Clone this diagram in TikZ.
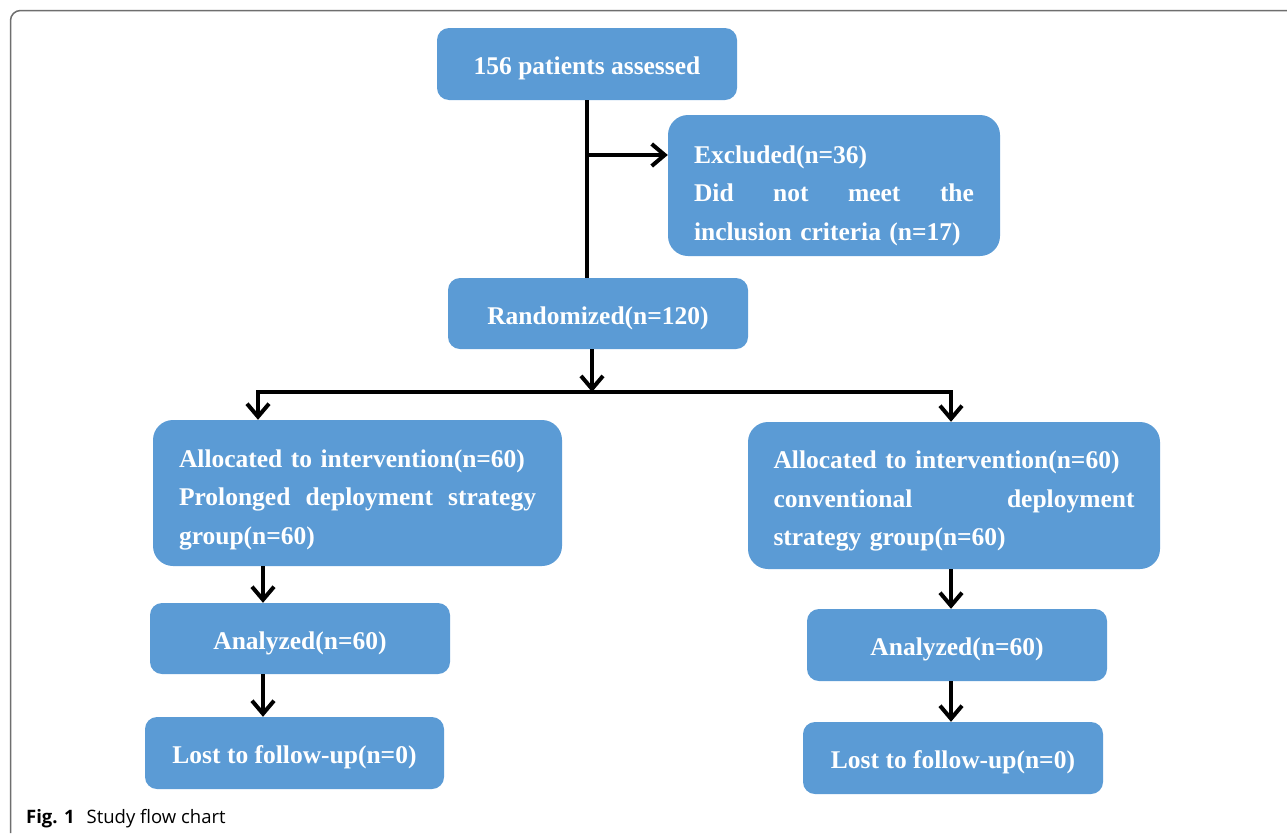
\documentclass[tikz,border=0pt]{standalone}
\usepackage{fontspec}
\setmainfont{Liberation Serif}
\newfontfamily\capfont{Open Sans}
\usetikzlibrary{arrows.meta}
\definecolor{boxblue}{HTML}{5B9BD5}
\definecolor{framegray}{HTML}{6E6E6E}
\newcommand{\spreadline}[2]{\leavevmode\hbox to #1{#2}}
\tikzset{
  box/.style={rectangle, fill=boxblue, text=white, rounded corners=12pt,
    font=\bfseries\fontsize{25.5}{38.5}\selectfont, inner sep=0pt},
  onebox/.style={box, text height=23pt, text depth=2pt},
  bigbox/.style={box, rounded corners=20pt, align=left},
  conn/.style={line width=4pt, black},
  arr/.style={conn, -{Straight Barb[length=13pt,width=22pt,line width=4pt]}}
}
\begin{document}
\begin{tikzpicture}[x=1pt,y=-1pt]
\useasboundingbox (0,0) rectangle (1287,833);
\draw[line width=1.5pt, framegray, rounded corners=10pt] (10.5,833) -- (10.5,10.5) -- (1287,10.5);

\node[onebox, minimum width=300pt, minimum height=72pt] (assess) at (587,64) {156 patients assessed};
\node[bigbox, minimum width=332pt, minimum height=141pt, text width=280pt] (excl) at (834,185.5)
  {\rule{0pt}{37.5pt}Excluded(n=36)\\ \spreadline{280pt}{Did\hfill not\hfill meet\hfill the}\\ inclusion criteria (n=17)};
\node[onebox, minimum width=300pt, minimum height=71pt] (rand) at (598,313.5) {Randomized(n=120)};
\node[bigbox, minimum width=409pt, minimum height=146pt, text width=357pt] (allocL) at (357.5,493)
  {\rule{0pt}{31.5pt}Allocated to intervention(n=60)\\ \spreadline{357pt}{Prolonged\hfill deployment\hfill strategy}\\ group(n=60)};
\node[bigbox, minimum width=412pt, minimum height=147pt, text width=361pt] (allocR) at (954,495.5)
  {\rule{0pt}{29.5pt}Allocated to intervention(n=60)\\ \spreadline{361pt}{conventional\hfill deployment}\\ strategy group(n=60)};
\node[onebox, minimum width=300pt, minimum height=71pt] (anaL) at (300,638.5) {Analyzed(n=60)};
\node[onebox, minimum width=300pt, minimum height=72pt] (anaR) at (957,645) {Analyzed(n=60)};
\node[onebox, minimum width=299pt, minimum height=72pt] (lostL) at (294.5,753) {Lost to follow-up(n=0)};
\node[onebox, minimum width=300pt, minimum height=72pt] (lostR) at (953,758) {Lost to follow-up(n=0)};

\node[anchor=base west, inner sep=0pt, font=\capfont\fontsize{18.5}{20}\selectfont] (cap) at (26,823)
  {\textbf{Fig. 1}\hspace{12pt}Study flow chart};

% connectors
\draw[conn] (assess.south) -- (assess.south |- rand.north);
\coordinate (br) at (587,155);
\draw[arr] (br) -- (br -| excl.west);
\coordinate (split) at (592,392);
\draw[arr] (split |- rand.south) -- (split);
\coordinate (hl) at (258,392);
\coordinate (hr) at (951,392);
\draw[conn, line cap=rect] (hl) -- (hr);
\draw[arr] (hl) -- (hl |- allocL.north);
\draw[arr] (hr) -- (hr |- allocR.north);
\coordinate (cl) at (263,0);
\coordinate (cr) at (951,0);
\draw[arr] (allocL.south -| cl) -- (anaL.north -| cl);
\draw[arr] (anaL.south -| cl) -- (lostL.north -| cl);
\draw[arr] (allocR.south -| cr) -- (anaR.north -| cr);
\draw[arr] (anaR.south -| cr) -- (lostR.north -| cr);
\end{tikzpicture}
\end{document}
